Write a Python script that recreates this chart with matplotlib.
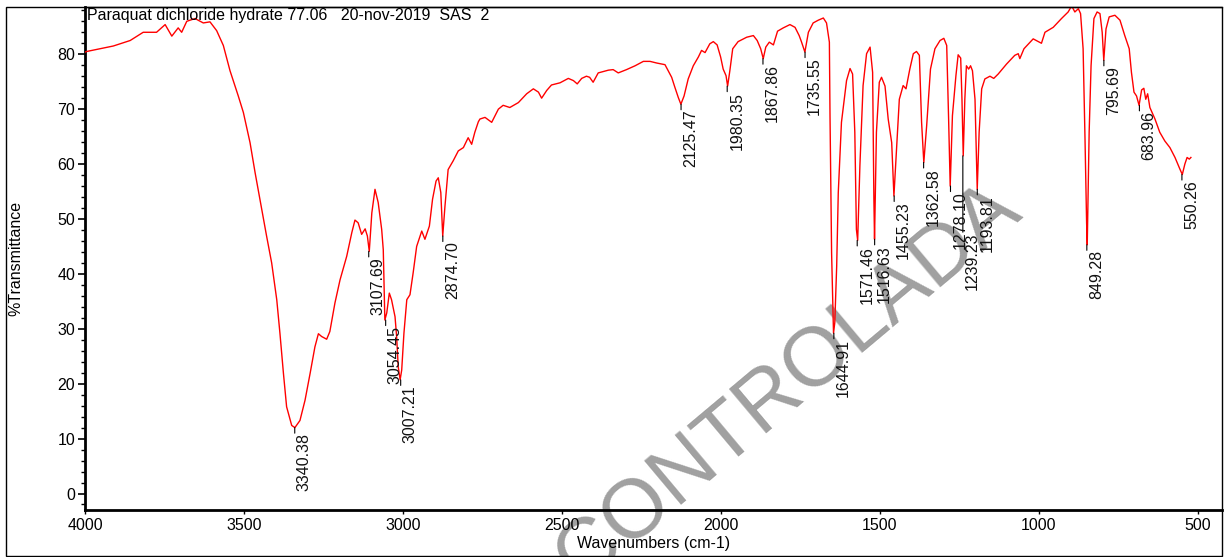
import numpy as np
import matplotlib
matplotlib.use("Agg")
import matplotlib.pyplot as plt
from matplotlib.patches import Rectangle
from matplotlib.ticker import MultipleLocator

plt.rcParams['font.family'] = ['Liberation Sans', 'DejaVu Sans']

# spectrum: wavenumber (cm-1) and %T
wavenumber = [
    4000, 3995, 3911, 3858, 3817, 3775, 3748, 3727, 3707, 3696, 3680, 3654, 3628, 3607,
    3586, 3565, 3544, 3518, 3502, 3481, 3465, 3444, 3429, 3413, 3397, 3387, 3376,
    3366, 3350, 3340, 3324, 3308, 3292, 3277, 3266, 3256, 3240, 3230, 3214, 3198,
    3177, 3161, 3151, 3141, 3130, 3119, 3112, 3106, 3098, 3088, 3078, 3067, 3062,
    3057, 3051, 3043, 3036, 3025, 3020, 3015, 3009, 3004, 2997, 2988, 2978, 2968,
    2957, 2941, 2931, 2917, 2907, 2896, 2889, 2881, 2875, 2868, 2858, 2842, 2826,
    2810, 2795, 2784, 2774, 2763, 2758, 2742, 2721, 2700, 2685, 2664, 2637, 2611,
    2590, 2574, 2564, 2548, 2533, 2506, 2480, 2464, 2452, 2438, 2423, 2413, 2402,
    2386, 2354, 2339, 2323, 2297, 2270, 2244, 2223, 2202, 2176, 2166, 2155, 2145,
    2134, 2126, 2116, 2103, 2087, 2071, 2061, 2050, 2035, 2024, 2012, 2001, 1993,
    1984, 1979, 1972, 1963, 1946, 1919, 1898, 1886, 1875, 1867, 1859, 1848, 1835,
    1822, 1804, 1783, 1767, 1754, 1747, 1736, 1725, 1710, 1694, 1678, 1668, 1659,
    1657, 1652, 1646, 1642, 1636, 1631, 1621, 1605, 1594, 1586, 1579, 1574, 1570,
    1563, 1553, 1542, 1531, 1523, 1519, 1517, 1511, 1502, 1495, 1484, 1474, 1463,
    1456, 1450, 1439, 1427, 1418, 1406, 1395, 1385, 1376, 1369, 1362, 1353, 1341,
    1327, 1311, 1299, 1290, 1284, 1279, 1272, 1261, 1254, 1246, 1242, 1238, 1233,
    1228, 1221, 1215, 1209, 1201, 1194, 1188, 1180, 1170, 1154, 1142, 1128, 1102,
    1076, 1065, 1060, 1047, 1018, 1002, 992, 981, 955, 929, 908, 897, 887, 876,
    869, 861, 855, 850, 848, 842, 836, 827, 817, 808, 801, 796, 789, 779, 761,
    745, 730, 716, 709, 701, 693, 685, 677, 670, 664, 658, 651, 635, 620, 604,
    588, 572, 556, 549, 541, 534, 527, 522,
]
transmittance = [
    80.4, 80.5, 81.5, 82.5, 84.0, 84.0, 85.4, 83.3, 84.8, 84.0, 86.0, 86.5, 85.7, 85.9,
    84.3, 81.6, 77.0, 72.4, 69.4, 63.9, 58.4, 51.7, 46.9, 42.0, 35.3, 29.2, 21.9,
    15.8, 12.4, 12.0, 13.3, 17.0, 21.9, 26.7, 29.1, 28.6, 28.1, 29.5, 34.7, 38.9,
    43.2, 47.5, 49.8, 49.3, 47.2, 48.2, 46.9, 44.1, 51.1, 55.4, 53.0, 48.1, 44.4,
    31.6, 32.9, 36.5, 35.3, 32.2, 28.6, 23.1, 20.7, 22.5, 29.2, 35.3, 36.2, 40.2,
    45.0, 47.8, 46.3, 48.7, 53.6, 56.9, 57.5, 54.8, 46.9, 52.3, 59.0, 60.6, 62.4,
    63.0, 64.8, 63.6, 65.8, 67.7, 68.2, 68.5, 67.6, 70.0, 70.7, 70.3, 71.2, 72.8,
    73.7, 73.1, 72.0, 73.4, 74.4, 74.8, 75.6, 75.2, 74.6, 75.6, 76.0, 75.8, 74.9,
    76.6, 77.1, 77.2, 76.6, 77.2, 77.9, 78.7, 78.7, 78.4, 78.1, 77.0, 75.8, 74.0,
    72.1, 70.9, 72.4, 75.5, 77.9, 79.5, 80.7, 80.3, 81.9, 82.3, 81.7, 79.5, 77.3,
    76.1, 74.2, 77.0, 81.0, 82.3, 83.1, 83.4, 82.5, 81.0, 79.2, 81.3, 82.2, 81.7,
    84.2, 84.8, 85.4, 84.9, 83.4, 82.3, 80.4, 84.0, 85.7, 86.2, 86.6, 85.7, 82.2,
    68.8, 43.8, 29.2, 31.1, 41.4, 54.8, 67.6, 75.2, 77.4, 76.4, 65.8, 48.1, 46.1,
    59.7, 74.3, 80.1, 81.3, 76.7, 53.6, 46.3, 65.8, 74.9, 75.8, 74.2, 68.2, 63.9,
    54.2, 60.3, 71.8, 74.3, 73.7, 77.3, 80.1, 80.5, 79.8, 67.6, 60.3, 67.0, 77.3,
    81.0, 82.5, 82.9, 81.6, 68.2, 56.0, 68.8, 76.1, 79.9, 79.3, 71.8, 61.5, 71.8,
    77.9, 77.3, 77.9, 77.0, 71.8, 55.4, 65.8, 73.7, 75.5, 76.0, 75.6, 76.4, 78.2,
    79.8, 80.1, 79.2, 81.0, 82.8, 82.3, 82.0, 84.0, 84.9, 86.5, 87.7, 88.8, 87.7, 88.3,
    87.4, 81.0, 64.5, 49.3, 45.3, 65.8, 77.9, 86.5, 87.7, 87.4, 84.0, 78.9, 84.6, 86.8, 87.1,
    86.2, 83.4, 81.0, 76.7, 73.1, 72.4, 70.7, 73.5, 73.8, 71.8, 72.8, 70.3, 68.2, 65.8, 64.2,
    63.0, 61.2, 59.0, 58.1, 60.0, 61.2, 60.9, 61.2,
]

# peak picks: position, %T at the tip, label
peak_wn = [3340.38, 3107.69, 3054.45, 3007.21, 2874.70, 2125.47, 1980.35, 1867.86,
           1735.55, 1644.91, 1571.46, 1516.63, 1455.23, 1362.58, 1278.10, 1239.23,
           1193.81, 849.28, 795.69, 683.96, 550.26]
peak_t = [12.0, 44.1, 31.6, 20.7, 46.9, 70.9, 74.2, 79.2, 80.4, 29.2, 46.1, 46.3,
          54.2, 60.3, 56.0, 61.5, 55.4, 45.3, 78.9, 70.7, 58.1]
peak_labels = ["%.2f" % w for w in peak_wn]

title_text = "Paraquat dichloride hydrate 77.06   20-nov-2019  SAS  2"

fig = plt.figure(figsize=(12.25, 5.57), dpi=100)
ax = fig.add_axes([0.0694, 0.0844, 0.9282, 0.903])
ax.set_facecolor("none")  # let the watermark show through under the data

ax.plot(wavenumber, transmittance, color="red", lw=1.0, zorder=3)

# leader ticks and rotated labels under each peak
for w, t, lbl in zip(peak_wn, peak_t, peak_labels):
    lead = 55 if lbl == "1239.23" else 4
    ax.annotate("", xy=(w, t), xytext=(0, -lead), textcoords="offset points",
                arrowprops=dict(arrowstyle="-", color="black", lw=0.8,
                                shrinkA=0, shrinkB=0), zorder=4)
    ax.annotate(lbl, xy=(w, t), xytext=(1.5, -lead), textcoords="offset points",
                rotation=90, ha="left", va="top", fontsize=11.5, color="#111111",
                zorder=5)

ax.set_xlim(4000, 424)
ax.set_ylim(-3.0, 88.6)
ax.xaxis.set_major_locator(MultipleLocator(500))
ax.yaxis.set_major_locator(MultipleLocator(10))
ax.yaxis.set_minor_locator(MultipleLocator(2))
ax.tick_params(axis="both", labelsize=11.5, colors="black", direction="out")
ax.tick_params(axis="y", which="major", length=5, width=1.2, pad=2)
ax.tick_params(axis="y", which="minor", length=3, width=1.0)
ax.tick_params(axis="x", which="major", length=3, width=1.0, pad=3)

ax.spines["right"].set_visible(False)
ax.spines["left"].set_linewidth(2)
ax.spines["bottom"].set_linewidth(2)
ax.spines["top"].set_linewidth(1)

ax.set_xlabel("Wavenumbers (cm-1)", fontsize=11.5, labelpad=2)
ax.set_ylabel("%Transmittance", fontsize=11.5)
ax.yaxis.set_label_coords(-0.054, 0.5)

ax.text(0.002, 0.999, title_text, transform=ax.transAxes, fontsize=11.5,
        ha="left", va="top", zorder=6)

# watermark, drawn under the axes contents
fig.text(0.655, 0.282, "CONTROLADA", fontsize=60, color="#a0a0a0",
         rotation=40, ha="center", va="baseline", rotation_mode="anchor", zorder=-1)

# outer frame around the whole picture
fig.patches.append(Rectangle((6 / 1225, 1 / 557), 1216 / 1225, 549 / 557,
                             transform=fig.transFigure, fill=False,
                             edgecolor="black", lw=1.0))

fig.savefig("out.png", dpi=100)
